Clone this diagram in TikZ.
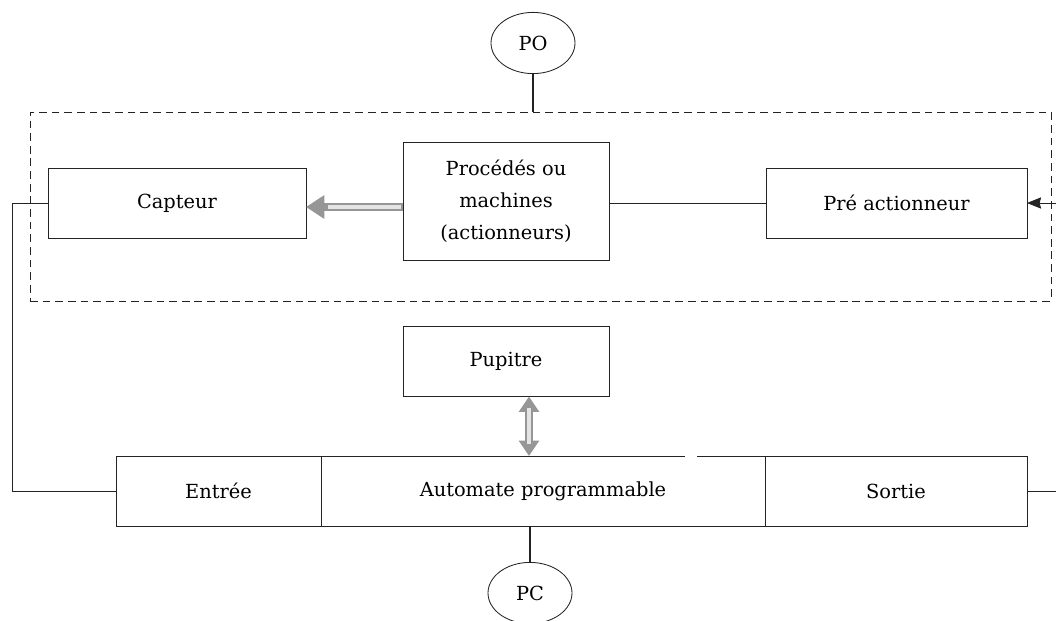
\documentclass[tikz,border=0pt]{standalone}
\usepackage{fontspec}
\setmainfont{DejaVu Serif}
\usetikzlibrary{arrows.meta,positioning,calc,shapes.geometric}
\definecolor{lineblack}{RGB}{35,35,35}
\definecolor{arrowgray}{RGB}{150,150,150}
\definecolor{arrowlight}{RGB}{228,228,228}
\tikzset{
  basebox/.style={rectangle,draw=lineblack,line width=0.7pt,align=center,font=\fontsize{13.8}{22.8}\selectfont,inner sep=0pt,outer sep=0pt},
  partbox/.style={basebox,minimum height=1.75cm},
  ovalnode/.style={ellipse,draw=lineblack,line width=0.6pt,minimum width=2.1cm,minimum height=1.53cm,inner sep=0pt,font=\fontsize{13.8}{16}\selectfont},
  zonebox/.style={rectangle,draw=lineblack,line width=0.7pt,dash pattern=on 5.5pt off 3.5pt,outer sep=0pt},
  wire/.style={draw=lineblack,line width=0.6pt},
  thickwire/.style={draw=lineblack,line width=2pt},
  arr/.style={wire,-{Stealth[length=10pt,width=8pt,inset=1pt]}},
  grayarr/.style={line width=6pt,color=arrowgray,-{Triangle[length=13pt,width=16pt]}},
  grayarrin/.style={line width=2.6pt,color=arrowlight},
  dblarr/.style={line width=6pt,color=arrowgray,{Triangle[length=11pt,width=14pt]}-{Triangle[length=11pt,width=14pt]}}
}
\begin{document}
\begin{tikzpicture}
  \useasboundingbox (0,0) rectangle (26.4,-15.525);
  % partie operative
  \node[ovalnode] (po) at (13.325,-1.075) {PO};
  \node[zonebox,minimum width=25.525cm,minimum height=4.725cm] (pozone) at (13.5125,-5.1625) {};
  \node[partbox,minimum width=6.45cm] (capteur) at (4.425,-5.0875) {Capteur};
  \node[basebox,minimum width=5.15cm,minimum height=2.95cm] (proc) at (12.65,-5.025) {Procédés ou\\machines\\(actionneurs)};
  \node[partbox,minimum width=6.525cm] (preact) at (22.4125,-5.075) {Pré actionneur};
  % partie commande
  \node[partbox,minimum width=5.15cm] (pupitre) at (12.65,-9.0375) {Pupitre};
  \node[partbox,minimum width=5.125cm] (entree) at (5.4625,-12.275) {Entrée};
  \node[partbox,minimum width=11.1cm,right=0cm of entree] (api) {Automate programmable};
  \node[partbox,minimum width=6.55cm,right=0cm of api] (sortie) {Sortie};
  \node[ovalnode] (pc) at (13.25,-14.825) {PC};
  \coordinate (fbl) at (0.3,-12.275);
  \coordinate (fbr) at (26.4,-12.275);
  % liaisons
  \draw[thickwire] (po.south) -- (po.south |- pozone.north);
  \draw[thickwire] (pc.north) -- (pc.north |- api.south);
  \draw[wire] (proc.east |- preact.west) -- (preact.west);
  \draw[grayarr] (proc.west |- 0,-5.175) -- (capteur.east |- 0,-5.175);
  \draw[grayarrin] ($(proc.west |- 0,-5.175)+(-0.05,0)$) -- ($(capteur.east |- 0,-5.175)+(0.55,0)$);
  \draw[dblarr] (13.225,-9.9125) -- (13.225,-11.4);
  \draw[grayarrin] (13.225,-10.2) -- (13.225,-11.1);
  \draw[wire] (capteur.west) -| (fbl) -- (entree.west);
  \draw[wire] (sortie.east) -- (fbr);
  \draw[arr] (preact.east -| fbr) -- (preact.east);
  \draw[white,line width=2pt] (17.125,-11.4) -- (17.425,-11.4);
\end{tikzpicture}
\end{document}
